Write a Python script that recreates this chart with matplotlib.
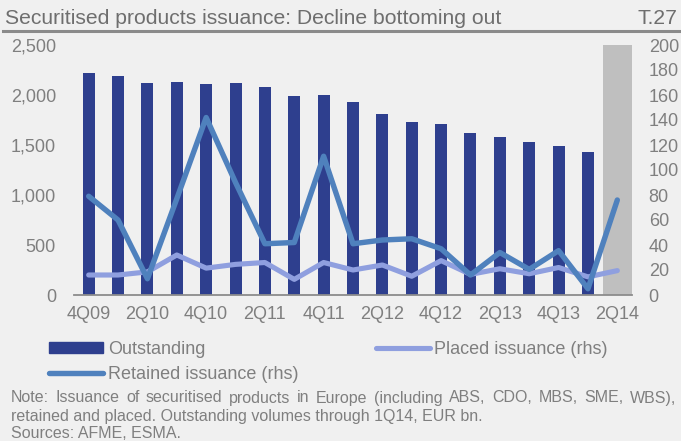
import matplotlib
matplotlib.use("Agg")
import matplotlib.pyplot as plt
import numpy as np
from matplotlib.patches import Rectangle
from matplotlib.lines import Line2D

plt.rcParams['font.family'] = ['Liberation Sans', 'DejaVu Sans']

quarters = ["4Q09", "1Q10", "2Q10", "3Q10", "4Q10", "1Q11", "2Q11", "3Q11", "4Q11",
            "1Q12", "2Q12", "3Q12", "4Q12", "1Q13", "2Q13", "3Q13", "4Q13", "1Q14", "2Q14"]
outstanding = [2223, 2190, 2117, 2130, 2107, 2120, 2083, 1993, 1997,
               1927, 1813, 1733, 1713, 1623, 1577, 1530, 1487, 1427]
retained = [79, 60, 13, 77, 142, 90, 41, 42, 111,
            41, 44, 45, 37, 16, 34, 20.5, 35.5, 5, 76]
placed = [16, 16, 18.5, 32, 21.5, 24.5, 26, 12.5, 26,
          20, 24, 15, 27.5, 16.5, 21, 17, 22, 14.5, 19.5]
highlight_quarter = "2Q14"
highlight_value = 2500

bg = "#f0f0f0"
navy = "#2e3f8e"
retained_c = "#4f81bd"
placed_c = "#8f9fdf"
gray_txt = "#7f7f7f"

W, H = 681, 441
fig = plt.figure(figsize=(W/100, H/100), dpi=100, facecolor=bg)
ax = fig.add_axes([74/W, 1-295/H, 558/W, 250/H])
ax.set_facecolor(bg)
x = np.arange(len(quarters))

hi = quarters.index(highlight_quarter)
ax.bar(hi, highlight_value, width=1.0, color="#bfbfbf", zorder=1)
ax.bar(x[:len(outstanding)], outstanding, width=0.41, color=navy, zorder=2)
ax.set_xlim(-0.5, len(quarters) - 0.5)
ax.set_ylim(0, 2500)
ax.set_yticks(np.arange(0, 2501, 500))
ax.set_yticklabels([f"{v:,}" for v in range(0, 2501, 500)])

ax2 = ax.twinx()
ax2.set_ylim(0, 200)
ax2.set_yticks(np.arange(0, 201, 20))
ax2.plot(x, placed, color=placed_c, lw=3.7, solid_joinstyle='round', solid_capstyle='round', zorder=3)
ax2.plot(x, retained, color=retained_c, lw=3.9, solid_joinstyle='round', solid_capstyle='round', zorder=4)

ax.set_xticks(x[::2])
ax.set_xticklabels(quarters[::2])

for a in (ax, ax2):
    for s in a.spines.values():
        s.set_visible(False)
    a.tick_params(length=0, labelsize=13, colors=gray_txt)
ax.spines['bottom'].set_visible(True)
ax.spines['bottom'].set_color("#8c8c8c")
ax.spines['bottom'].set_linewidth(1.3)
ax.tick_params(axis='y', pad=13)
ax.tick_params(axis='x', pad=8)
ax2.tick_params(axis='y', pad=12)

# Title bar
fig.text(5/W, 1-18/H, "Securitised products issuance: Decline bottoming out",
         fontsize=15.2, color="#6e6e6e", va='center', ha='left')
fig.text(677/W, 1-18/H, "T.27", fontsize=15.2, color="#6e6e6e", va='center', ha='right')
fig.add_artist(Line2D([3/W, 1], [1-31/H, 1-31/H], color="#8a8a8a", lw=2.2))

# Legend
h_out = Rectangle((0, 0), 1, 1, color=navy)
h_pl = Line2D([], [], color=placed_c, lw=3.7, solid_capstyle='round')
h_re = Line2D([], [], color=retained_c, lw=3.9, solid_capstyle='round')
fig.legend([h_out, h_re, h_pl], ["Outstanding", "Retained issuance (rhs)", "Placed issuance (rhs)"],
           ncol=2, loc='upper left', bbox_to_anchor=(49/W, 1-341/H), frameon=False,
           fontsize=13, labelcolor=gray_txt, handlelength=3.0, handletextpad=0.25,
           columnspacing=4.3, labelspacing=0.42, handleheight=0.5, borderaxespad=0, borderpad=0)

# Note (first line justified)
note_fs = 11.5
line1 = "Note: Issuance of securitised products in Europe (including ABS, CDO, MBS, SME, WBS),"
line2 = "retained and placed. Outstanding volumes through 1Q14, EUR bn."
line3 = "Sources: AFME, ESMA."
renderer = fig.canvas.get_renderer()
words = line1.split(" ")
x0, x1 = 11, 676
texts = []
widths = []
for w_ in words:
    t = fig.text(0, 1-398/H, w_, fontsize=note_fs, color=gray_txt, va='center', ha='left')
    widths.append(t.get_window_extent(renderer).width)
    texts.append(t)
gap = ((x1 - x0) - sum(widths)) / (len(words) - 1)
cx = x0
for t, wd in zip(texts, widths):
    t.set_x(cx / W)
    cx += wd + gap
fig.text(x0/W, 1-416/H, line2, fontsize=note_fs, color=gray_txt, va='center', ha='left')
fig.text(x0/W, 1-433/H, line3, fontsize=note_fs, color=gray_txt, va='center', ha='left')

fig.savefig("out.png", dpi=100, facecolor=bg)
